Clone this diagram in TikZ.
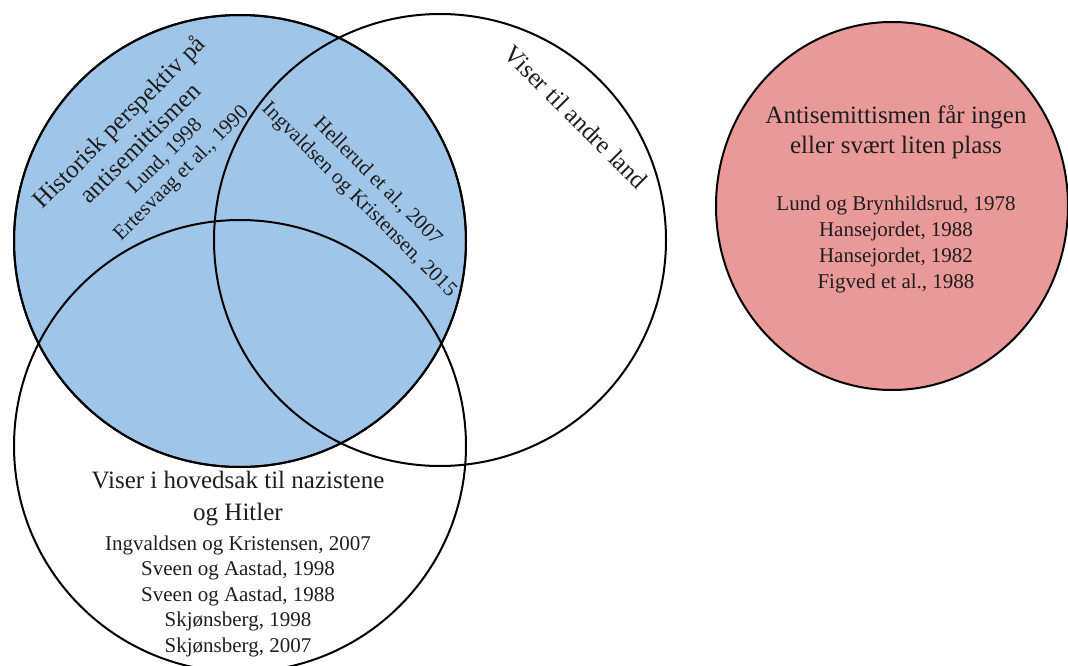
\documentclass[tikz,border=0pt]{standalone}
\usepackage{fontspec}
\setmainfont{Liberation Serif}
\usetikzlibrary{shapes.geometric}

\definecolor{histblue}{HTML}{9FC5E8}
\definecolor{nonepink}{HTML}{EA9999}
\definecolor{txt}{HTML}{1E1E1E}

\tikzset{
  venn/.style={circle, draw=black, line width=2pt, inner sep=0pt, minimum size=452pt},
  headtext/.style={inner sep=0pt, align=center, text=txt,
    font=\fontsize{25}{30}\selectfont},
  reftext/.style={inner sep=0pt, align=center, text=txt,
    font=\fontsize{21}{25.5}\selectfont},
}

\begin{document}
\begin{tikzpicture}[x=1pt, y=-1pt]
  \useasboundingbox (0,0) rectangle (1068,666);
  \clip (0,0) rectangle (1068,666);

  % Three-set Venn diagram
  \node[venn, fill=histblue] (hist) at (240,241) {};
  \node[venn] (land) at (440,240) {};
  \node[venn] (nazi) at (240,446) {};
  % redraw the outline of the filled circle on top
  \node[venn, draw=black] (histrim) at (240,241) {};

  % Separate set
  \node[ellipse, draw=black, line width=2pt, fill=nonepink, inner sep=0pt,
        minimum width=352pt, minimum height=368pt] (none) at (892,206) {};

  % Labels inside the blue set
  \node[headtext, rotate=45] (histhead) at (129,132)
    {Historisk perspektiv på\\antisemittismen};
  \node[reftext, rotate=45, font=\fontsize{21}{23.5}\selectfont] (histrefs) at (173.5,165.5)
    {Lund, 1998\\Ertesvaag et al., 1990};

  % Labels in the overlap with the second set
  \node[reftext, rotate=-45, font=\fontsize{21}{26}\selectfont] (overlaprefs) at (368,191)
    {Hellerud et al., 2007\\Ingvaldsen og Kristensen, 2015};
  \node[headtext, rotate=-45] (landhead) at (576,117) {Viser til andre land};

  % Labels of the lower set
  \node[headtext, font=\fontsize{25}{32}\selectfont] (nazihead) at (238,499)
    {Viser i hovedsak til nazistene\\og Hitler};
  \node[reftext] (nazirefs) at (238,596)
    {Ingvaldsen og Kristensen, 2007\\Sveen og Aastad, 1998\\Sveen og Aastad, 1988\\Skjønsberg, 1998\\Skjønsberg, 2007};

  % Labels of the separate set
  \node[headtext] (nonehead) at (896,132)
    {Antisemittismen får ingen\\eller svært liten plass};
  \node[reftext, font=\fontsize{21}{26}\selectfont] (nonerefs) at (896,244)
    {Lund og Brynhildsrud, 1978\\Hansejordet, 1988\\Hansejordet, 1982\\Figved et al., 1988};
\end{tikzpicture}
\end{document}
